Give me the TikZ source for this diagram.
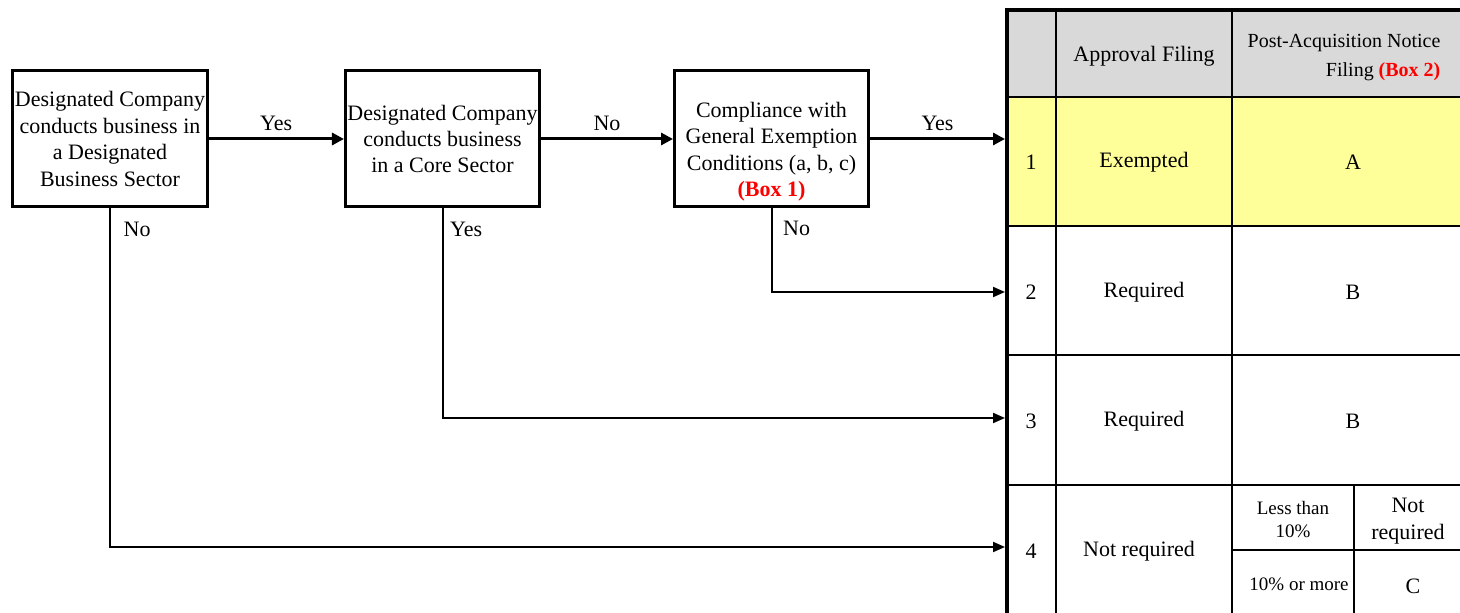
\documentclass[tikz,border=0pt]{standalone}
\usepackage{fontspec}
\setmainfont{Liberation Serif}
\usetikzlibrary{arrows.meta}
\definecolor{hdrgray}{HTML}{D9D9D9}
\definecolor{rowyellow}{HTML}{FFFF99}
\definecolor{boxred}{HTML}{FF0000}
\tikzset{
	% question boxes of the flow
	qbox/.style={draw, line width=1.5pt, minimum width=97pt, minimum height=68pt, align=center, inner sep=1pt},
	% arrows
	flow/.style={line width=1.5pt, -{Triangle[length=6pt,width=6pt]}},
	branch/.style={line width=1pt, -{Triangle[length=6pt,width=5pt]}},
	grid/.style={line width=1.2pt},
	small/.style={font=\fontsize{9.5}{11.5}\selectfont, align=center}
}
\begin{document}
\begin{tikzpicture}[x=0.5pt,y=-0.5pt,font=\fontsize{11}{13.2}\selectfont]
		\useasboundingbox (0,0) rectangle (1460,613);
		% table background
		\fill [hdrgray] (1007,10) rectangle (1460,97);
		\fill [rowyellow] (1007,97) rectangle (1460,226);
		% table grid
		\draw [grid] (1007,97) -- (1460,97) (1007,226) -- (1460,226) (1007,355) -- (1460,355) (1007,485) -- (1460,485);
		\draw [grid] (1056,10) -- (1056,613) (1232,10) -- (1232,613) (1354,485) -- (1354,613) (1232,550) -- (1460,550);
		\draw [line width=2pt] (1007,613) -- (1007,10) -- (1460,10);
		% table texts
		\node (hApproval) at (1144,56) {Approval Filing};
		\node (hNotice) [align=right, font=\fontsize{10}{14.5}\selectfont] at (1344,58) {Post-Acquisition Notice\\Filing \textcolor{boxred}{\textbf{(Box 2)}}};
		\node (n1) at (1031,162) {1};
		\node (a1) at (1144,162) {Exempted};
		\node (p1) at (1353,162) {A};
		\node (n2) at (1031,292) {2};
		\node (a2) at (1144,292) {Required};
		\node (p2) at (1353,292) {B};
		\node (n3) at (1031,421) {3};
		\node (a3) at (1144,421) {Required};
		\node (p3) at (1353,421) {B};
		\node (n4) at (1031,551) {4};
		\node (a4) at (1139,551) {Not required};
		\node (lt) [small] at (1293,520) {Less than\\10\%};
		\node (ltv) [align=center] at (1408,521) {Not\\required};
		\node (ge) [small] at (1299,584) {10\% or more};
		\node (gev) at (1413,586) {C};
		% entry points of the rows
		\coordinate (in1) at (1005,139);
		\coordinate (in2) at (1005,292);
		\coordinate (in3) at (1005,418);
		\coordinate (in4) at (1005,547);
		% flow boxes
		\node [qbox] (sector) at (110,139) {Designated Company\\conducts business in\\a Designated\\Business Sector};
		\node [qbox] (core) at (442.5,139) {Designated Company\\conducts business\\in a Core Sector};
		\node [qbox] (exempt) at (771.5,139) {\mbox{}\\[7pt]Compliance with\\General Exemption\\Conditions (a, b, c)\\\textcolor{boxred}{\textbf{(Box 1)}}};
		\draw [flow] (sector) -- node [above=0pt] {Yes} (core);
		\draw [flow] (core) -- node [above=0pt] {No} (exempt);
		\draw [flow] (exempt) -- node [above=0pt] {Yes} (in1);
		\draw [branch] (exempt.south) |- node [pos=0.12, right=2pt] {No} (in2);
		\draw [branch] (core.south) |- node [pos=0.05, right=0pt] {Yes} (in3);
		\draw [branch] (sector.south) |- node [pos=0.031, right=3pt] {No} (in4);
	\end{tikzpicture}
\end{document}
